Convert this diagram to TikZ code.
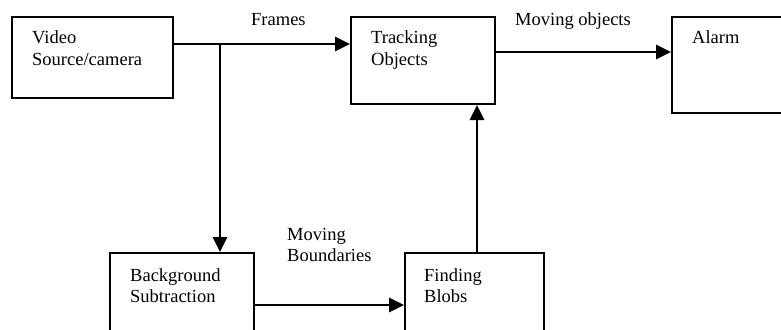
\documentclass[tikz,border=0pt]{standalone}
\usepackage{fontspec}
\setmainfont{Liberation Serif}
\usetikzlibrary{arrows.meta}
\tikzset{
  blk/.style={draw, line width=2pt, anchor=north west, inner sep=0pt},
  txt/.style={anchor=base west, align=left, inner sep=0pt,
              font=\fontsize{18.5}{21}\selectfont},
  flow/.style={line width=2.8pt, -{Triangle[length=15pt,width=14pt]}}
}
\begin{document}
\begin{tikzpicture}[x=1pt, y=-1pt]
      \useasboundingbox (0,0) rectangle (781,329);
      %
      \node[blk, minimum width=161, minimum height=81] (video) at (11,16) {};   % top row
      \node[blk, minimum width=144, minimum height=87] (track) at (350,16) {};
      \node[blk, minimum width=130, minimum height=96] (alarm) at (671,16) {};
      %
      \node[blk, minimum width=144, minimum height=90] (bgsub) at (109,252) {}; % bottom row
      \node[blk, minimum width=139, minimum height=90] (blobs) at (404,252) {};
      %
      \node[txt] (videotxt) at (32,65) {Video\\Source/camera};   % base = last line
      \node[txt] (tracktxt) at (371,65) {Tracking\\Objects};
      \node[txt] (alarmtxt) at (692,44) {Alarm};
      \node[txt] (bgsubtxt) at (130,302) {Background\\Subtraction};
      \node[txt] (blobstxt) at (424,302) {Finding\\Blobs};
      %
      \node[txt] (frameslbl) at (251,26) {Frames};         % labels
      \node[txt] (movinglbl) at (515,26) {Moving objects};
      \node[txt] (boundlbl) at (287,261) {Moving\\Boundaries};
      %
      \coordinate (split) at (220,44);
      \draw[line width=2.8pt] (split -| video.east) -- (split);
      \draw[flow] (split) -- (split -| track.west);
      \draw[flow] (split) -- (split |- bgsub.north);
      \draw[flow] ([yshift=-36pt]track.north east) -- ([yshift=-36pt]alarm.north west);
      \draw[flow] ([yshift=-53pt]bgsub.north east) -- ([yshift=-53pt]blobs.north west);
      \draw[flow] ([xshift=73pt]blobs.north west) coordinate (up) -- (up |- track.south);
      %
    \end{tikzpicture}
\end{document}
